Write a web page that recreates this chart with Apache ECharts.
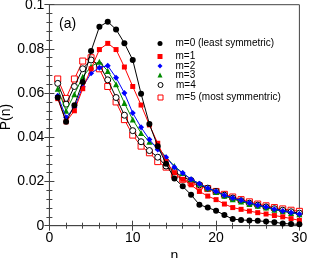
<!DOCTYPE html>
<html><head><meta charset="utf-8">
<script src="https://cdn.jsdelivr.net/npm/echarts@6/dist/echarts.min.js"></script>
<style>html,body{margin:0;padding:0;background:#fff}#c{width:309px;height:258px}</style>
</head><body><div id="c"></div>
<script>
var nValues = [1,2,3,4,5,6,7,8,9,10,11,12,13,14,15,16,17,18,19,20,21,22,23,24,25,26,27,28,29,30];
var seriesNames = ['m=0 (least symmetric)','m=1','m=2','m=3','m=4','m=5 (most symmentric)'];
var m0 = [0.058,0.047,0.0545,0.065,0.079,0.090,0.0923,0.0888,0.0826,0.075,0.0597,0.046,0.036,0.028,0.0214,0.0178,0.014,0.0095,0.0082,0.0068,0.0048,0.003,0.0026,0.0024,0.0022,0.0019,0.0016,0.0010,0.0008,0.0006];
var m1 = [0.0575,0.047,0.052,0.062,0.071,0.0797,0.0825,0.0797,0.0718,0.063,0.0546,0.0456,0.0373,0.029,0.024,0.021,0.0185,0.0155,0.0134,0.0118,0.0098,0.0082,0.0074,0.0066,0.0059,0.0053,0.0046,0.004,0.0032,0.0024];
var m2 = [0.0588,0.049,0.0534,0.0629,0.069,0.0715,0.0724,0.067,0.060,0.051,0.0445,0.039,0.0345,0.031,0.0265,0.0238,0.021,0.019,0.017,0.0155,0.0138,0.0125,0.0115,0.0103,0.0093,0.0085,0.0075,0.0066,0.006,0.0053];
var m3 = [0.062,0.052,0.0595,0.0674,0.072,0.0742,0.070,0.064,0.0555,0.048,0.042,0.038,0.0355,0.031,0.027,0.0238,0.021,0.019,0.017,0.0153,0.0135,0.012,0.011,0.0098,0.009,0.0082,0.0072,0.0065,0.0058,0.0052];
var m4 = [0.0644,0.055,0.063,0.071,0.075,0.0727,0.066,0.058,0.05,0.043,0.038,0.034,0.031,0.027,0.0245,0.022,0.0205,0.0185,0.017,0.0155,0.0138,0.0125,0.0113,0.0102,0.0093,0.0085,0.0077,0.007,0.0063,0.0057];
var m5 = [0.0664,0.0576,0.0664,0.0745,0.076,0.071,0.063,0.056,0.048,0.041,0.036,0.033,0.029,0.0265,0.023,0.021,0.0195,0.018,0.0168,0.0155,0.0142,0.013,0.0118,0.0108,0.0098,0.009,0.0082,0.0076,0.007,0.0065];
var xTicks = [0,10,20,30];
var yTicks = [0,0.02,0.04,0.06,0.08,0.1];

function pairs(arr){ return nValues.map(function(n,i){ return [n, arr[i]]; }); }

var styles = [
  {color:'#000000', symbol:'circle', size:6, fill:'#000000'},
  {color:'#ff0000', symbol:'rect', size:5, fill:'#ff0000'},
  {color:'#0000ff', symbol:'diamond', size:6, fill:'#0000ff'},
  {color:'#008a00', symbol:'triangle', size:6, fill:'#008a00'},
  {color:'#000000', symbol:'circle', size:6, fill:'#ffffff'},
  {color:'#ff0000', symbol:'rect', size:6, fill:'#ffffff'}
];
var allData = [m0,m1,m2,m3,m4,m5];
var series = allData.map(function(d,i){
  var s = styles[i];
  return {
    name: seriesNames[i], type:'line', data: pairs(d),
    symbol: s.symbol, symbolSize: s.size, showAllSymbol:true,
    lineStyle:{color:s.color, width:1},
    itemStyle:{color:s.fill, borderColor:s.color, borderWidth: (s.fill==='#ffffff')?1:0},
    z: 10 - i, animation:false
  };
});
function legendItem(i){
  var s = styles[i];
  return {name: seriesNames[i], icon: s.symbol,
    itemStyle:{color:s.fill, borderColor:s.color, borderWidth:(s.fill==='#ffffff')?1:0}};
}
var legendCenters = [44.5, 57.5, 67, 76, 86, 98.5];
var legends = legendCenters.map(function(c,i){
  return {orient:'vertical', left:157.5, top:c-6, itemWidth:5, itemHeight:5, itemGap:0,
    textStyle:{fontFamily:'Liberation Sans', fontSize:10, color:'#000', padding:[0,0,0,8]},
    padding:0, selectedMode:false, data:[legendItem(i)]};
});
var chart = echarts.init(document.getElementById('c'), null, {renderer:'canvas'});
var axisCommon = {
  axisLine:{lineStyle:{color:'#444', width:1}},
  axisTick:{inside:true, length:5, lineStyle:{color:'#444'}},
  minorTick:{show:true, splitNumber:5, length:3, lineStyle:{color:'#444'}},
  splitLine:{show:false}
};
chart.setOption({
  animation:false,
  grid:{left:49.4, right:9.6, top:4.7, bottom:32.3, show:true, borderColor:'#444', borderWidth:1, containLabel:false, outerBoundsMode:'none'},
  xAxis:[
    Object.assign({type:'value', min:xTicks[0], max:xTicks[xTicks.length-1], interval:10, position:'bottom',
      name:'n', nameLocation:'middle', nameGap:21, nameTextStyle:{fontFamily:'Liberation Sans', fontSize:14, color:'#000'},
      axisLabel:{fontFamily:'Liberation Sans', fontSize:14, color:'#000', margin:5}}, axisCommon),
    Object.assign({type:'value', min:xTicks[0], max:xTicks[xTicks.length-1], interval:10, position:'top',
      axisLabel:{show:false}}, axisCommon)
  ],
  yAxis:[
    Object.assign({type:'value', min:yTicks[0], max:yTicks[yTicks.length-1], interval:0.02, position:'left',
      axisLabel:{fontFamily:'Liberation Sans', fontSize:14, color:'#000', margin:5}}, axisCommon),
    Object.assign({type:'value', min:yTicks[0], max:yTicks[yTicks.length-1], interval:0.02, position:'right',
      axisLabel:{show:false}}, axisCommon)
  ],
  legend: legends,
  graphic:[
    {type:'text', left:59, top:17, style:{text:'(a)', font:'14px "Liberation Sans"', fill:'#000'}},
    {type:'text', x:6, y:117, rotation:Math.PI/2, style:{text:'P(n)', font:'14px "Liberation Sans"', fill:'#000', align:'center', verticalAlign:'middle'}}
  ],
  series: series
});
</script></body></html>
